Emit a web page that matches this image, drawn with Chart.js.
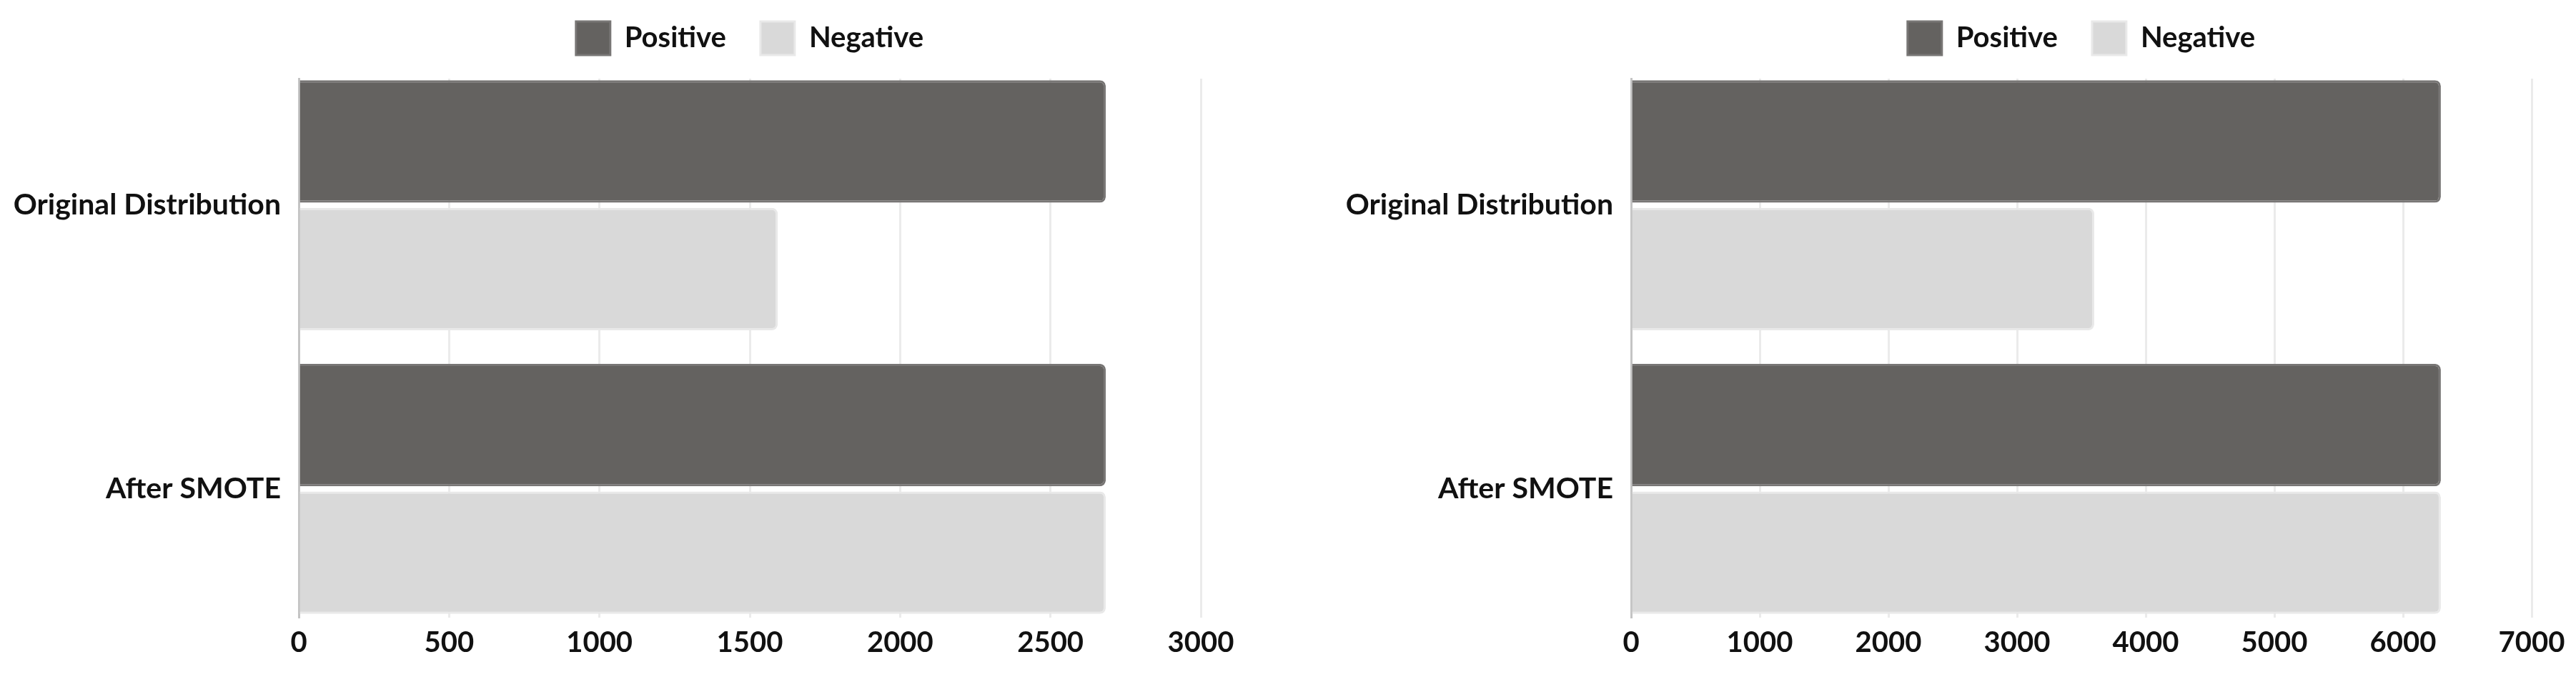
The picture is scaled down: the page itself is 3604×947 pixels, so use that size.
<!DOCTYPE html>
<html>
<head>
<meta charset="utf-8">
<script src="https://cdn.jsdelivr.net/npm/chart.js@4.4.1/dist/chart.umd.min.js"></script>
<style>
  html, body { margin: 0; padding: 0; background: #fff; }
  #wrap { position: relative; width: 3604px; height: 947px; }
  .box  { position: absolute; top: 0; width: 1802px; height: 947px; }
</style>
</head>
<body>
<div id="wrap">
  <div class="box" style="left:0"><canvas id="leftChart"></canvas></div>
  <div class="box" style="left:1802px"><canvas id="rightChart"></canvas></div>
</div>
<script>
// ─── Data ─────────────────────────────────────────────────────────────────────
const categories   = ['Original Distribution', 'After SMOTE'];
const seriesNames  = ['Positive', 'Negative'];

const leftPositive  = [2684, 2684];
const leftNegative  = [1593, 2684];
const leftTicks     = [0, 500, 1000, 1500, 2000, 2500, 3000];

const rightPositive = [6294, 6294];
const rightNegative = [3600, 6294];
const rightTicks    = [0, 1000, 2000, 3000, 4000, 5000, 6000, 7000];

// ─── Styling ──────────────────────────────────────────────────────────────────
const DARK        = '#646260';
const DARK_EDGE   = '#787675';
const LIGHT       = '#d9d9d9';
const LIGHT_EDGE  = '#e9e9e9';
const TEXT        = '#111111';

Chart.defaults.font.family = 'Lato, "Noto Sans", sans-serif';
Chart.defaults.font.weight = 'bold';
Chart.defaults.font.size   = 40;
Chart.defaults.color       = TEXT;

// y is a linear index axis so each pair of bars sits where the reference has it
const Y_MIN = -0.4467;
const Y_MAX = 1.4543;

function makeChart(canvasId, positive, negative, ticks, padLeft, padRight) {
  const toPoints = arr => arr.map((v, i) => ({ x: v, y: i }));
  const barStyle = {
    borderWidth:   3,
    borderRadius:  8,
    borderSkipped: 'start',
    xAxisID:       'x',
    yAxisID:       'y',
  };

  return new Chart(document.getElementById(canvasId), {
    type: 'bar',
    data: {
      datasets: [
        { ...barStyle, label: seriesNames[0], data: toPoints(positive),
          backgroundColor: DARK, borderColor: DARK_EDGE },
        { ...barStyle, label: seriesNames[1], data: toPoints(negative),
          backgroundColor: LIGHT, borderColor: LIGHT_EDGE },
      ],
    },
    options: {
      indexAxis:           'y',
      responsive:          true,
      maintainAspectRatio: false,
      animation:           false,
      categoryPercentage:  0.9,
      barPercentage:       0.96,
      layout: { padding: { left: padLeft, right: padRight, top: -18, bottom: 13 } },
      scales: {
        x: {
          type: 'linear',
          min:  ticks[0],
          max:  ticks[ticks.length - 1],
          afterBuildTicks: axis => { axis.ticks = ticks.map(v => ({ value: v })); },
          grid:   { color: '#ebebeb', lineWidth: 3, drawTicks: false },
          border: { display: false },
          ticks:  {
            padding:  11,
            color:    TEXT,
            font:     { size: 40, weight: 'bold' },
            callback: v => String(v),
          },
        },
        // empty strip between legend and plot
        gap: {
          type:     'linear',
          axis:     'x',
          position: 'top',
          grid:     { display: false, drawTicks: false },
          border:   { display: false },
          ticks:    { display: false },
          afterFit: axis => { axis.height = 23; },
        },
        y: {
          type:    'linear',
          reverse: true,
          offset:  false,
          min:     Y_MIN,
          max:     Y_MAX,
          afterBuildTicks: axis => { axis.ticks = categories.map((_, i) => ({ value: i })); },
          afterFit: axis => { axis.width = 400; },
          grid:   { display: false, drawTicks: false },
          border: { display: true, color: '#c4c4c4', width: 3 },
          ticks:  {
            padding:  25,
            color:    TEXT,
            font:     { size: 41, weight: 'bold' },
            callback: v => categories[v] ?? '',
          },
        },
      },
      plugins: {
        legend: {
          position: 'top',
          fullSize: false,
          labels: {
            boxWidth:  48,
            boxHeight: 47,
            padding:   48,
            color:     TEXT,
            font:      { size: 40, weight: 'bold' },
          },
        },
        tooltip: { enabled: false },
      },
    },
  });
}

makeChart('leftChart',  leftPositive,  leftNegative,  leftTicks,  18, 122);
makeChart('rightChart', rightPositive, rightNegative, rightTicks, 80, 62);
</script>
</body>
</html>
